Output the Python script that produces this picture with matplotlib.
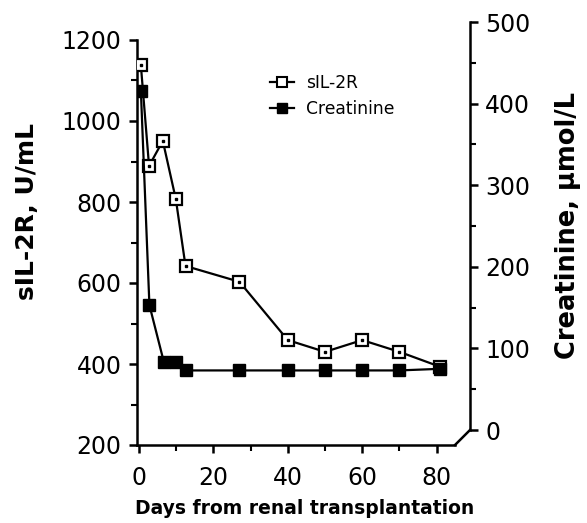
"""sIL-2R and creatinine after renal transplantation (dual y-axis)."""

import matplotlib

matplotlib.use("Agg")
import matplotlib.pyplot as plt
from matplotlib.lines import Line2D
from matplotlib.ticker import MultipleLocator

# data
sil2r_days = [0.5, 2.7, 6.4, 9.9, 12.5, 27, 40, 50, 60, 70, 81]
sil2r_vals = [1138, 889, 951, 807, 642, 603, 459, 430, 459, 430, 393]
creat_days = [0.5, 2.8, 6.7, 9.9, 12.6, 27, 40, 50, 60, 70, 81]
creat_vals = [416, 153, 83, 83, 73, 73, 73, 73, 73, 73, 75]

W, H = 587, 523
fig = plt.figure(figsize=(W / 100, H / 100), dpi=100)


def box(x0, y0, x1, y1):
    # pixel box (top-left origin) -> figure fraction rect
    return [x0 / W, 1 - y1 / H, (x1 - x0) / W, (y1 - y0) / H]


# pixel geometry of the reference
px0, px_day = 139.0, 3.72       # x of day 0, pixels per day
left_x, xaxis_end, right_x = 137, 455, 470
day_at = lambda px: (px - px0) / px_day

ax = fig.add_axes(box(left_x, 40, xaxis_end, 445))
ax.set_xlim(day_at(left_x), day_at(xaxis_end))
ax.set_ylim(200, 1200)
for s in ("top", "right"):
    ax.spines[s].set_visible(False)
for s in ("left", "bottom"):
    ax.spines[s].set_linewidth(1.8)
ax.xaxis.set_major_locator(MultipleLocator(20))
ax.xaxis.set_minor_locator(MultipleLocator(10))
ax.yaxis.set_major_locator(MultipleLocator(200))
ax.yaxis.set_minor_locator(MultipleLocator(100))
ax.tick_params(which="major", length=6, width=1.8, labelsize=17, pad=5)
ax.tick_params(axis="x", which="major", pad=9)
ax.tick_params(which="minor", length=4, width=1.5)
ax.patch.set_alpha(0)

ax2 = fig.add_axes(box(left_x, 22, right_x, 430))
ax2.set_xlim(day_at(left_x), day_at(right_x))
ax2.set_ylim(0, 500)
for s in ("top", "left", "bottom"):
    ax2.spines[s].set_visible(False)
ax2.spines["right"].set_linewidth(1.8)
ax2.xaxis.set_visible(False)
ax2.yaxis.tick_right()
ax2.yaxis.set_major_locator(MultipleLocator(100))
ax2.yaxis.set_minor_locator(MultipleLocator(50))
ax2.tick_params(which="major", length=6, width=1.8, labelsize=17, pad=5)
ax2.tick_params(which="minor", length=4, width=1.5)
ax2.patch.set_alpha(0)

# diagonal joining the x axis to the offset right axis
fig.add_artist(Line2D([xaxis_end / W, right_x / W], [1 - 445 / H, 1 - 430 / H],
                      color="black", linewidth=1.8))

ax.plot(sil2r_days, sil2r_vals, color="black", linewidth=1.6, marker="s",
        markersize=8.5, markerfacecolor="white", markeredgewidth=1.6, zorder=3)
ax.plot(sil2r_days, sil2r_vals, linestyle="none", marker="s", markersize=2,
        color="black", zorder=4)
ax2.plot(creat_days, creat_vals, color="black", linewidth=1.6, marker="s",
         markersize=8.5, zorder=3)

ax.set_ylabel("sIL-2R, U/mL", fontsize=18, fontweight="bold")
ax.yaxis.set_label_coords((39 - left_x) / (xaxis_end - left_x), (445 - 212) / 405)
ax2.set_ylabel("Creatinine, \u00b5mol/L", fontsize=18.5, fontweight="bold")
ax2.yaxis.set_label_position("right")
ax2.yaxis.set_label_coords((555 - left_x) / (right_x - left_x), (430 - 225) / 408)
ax.set_xlabel("Days from renal transplantation", fontsize=13.5,
              fontweight="heavy")
ax.xaxis.set_label_coords((305 - left_x) / (xaxis_end - left_x), (445 - 499) / 405)

handles = [
    Line2D([], [], color="black", linewidth=1.6, marker="s", markersize=7,
           markerfacecolor="white", markeredgewidth=1.5),
    Line2D([], [], color="black", linewidth=1.6, marker="s", markersize=7),
]
ax.legend(handles, ["sIL-2R", "Creatinine"], loc="upper left",
          bbox_to_anchor=(270 / W, 1 - 74 / H), bbox_transform=fig.transFigure,
          frameon=False, fontsize=12.3, handlelength=1.4, handletextpad=0.7,
          labelspacing=0.45, borderaxespad=0, borderpad=0)

fig.savefig("out.png", dpi=100)
plt.close(fig)
